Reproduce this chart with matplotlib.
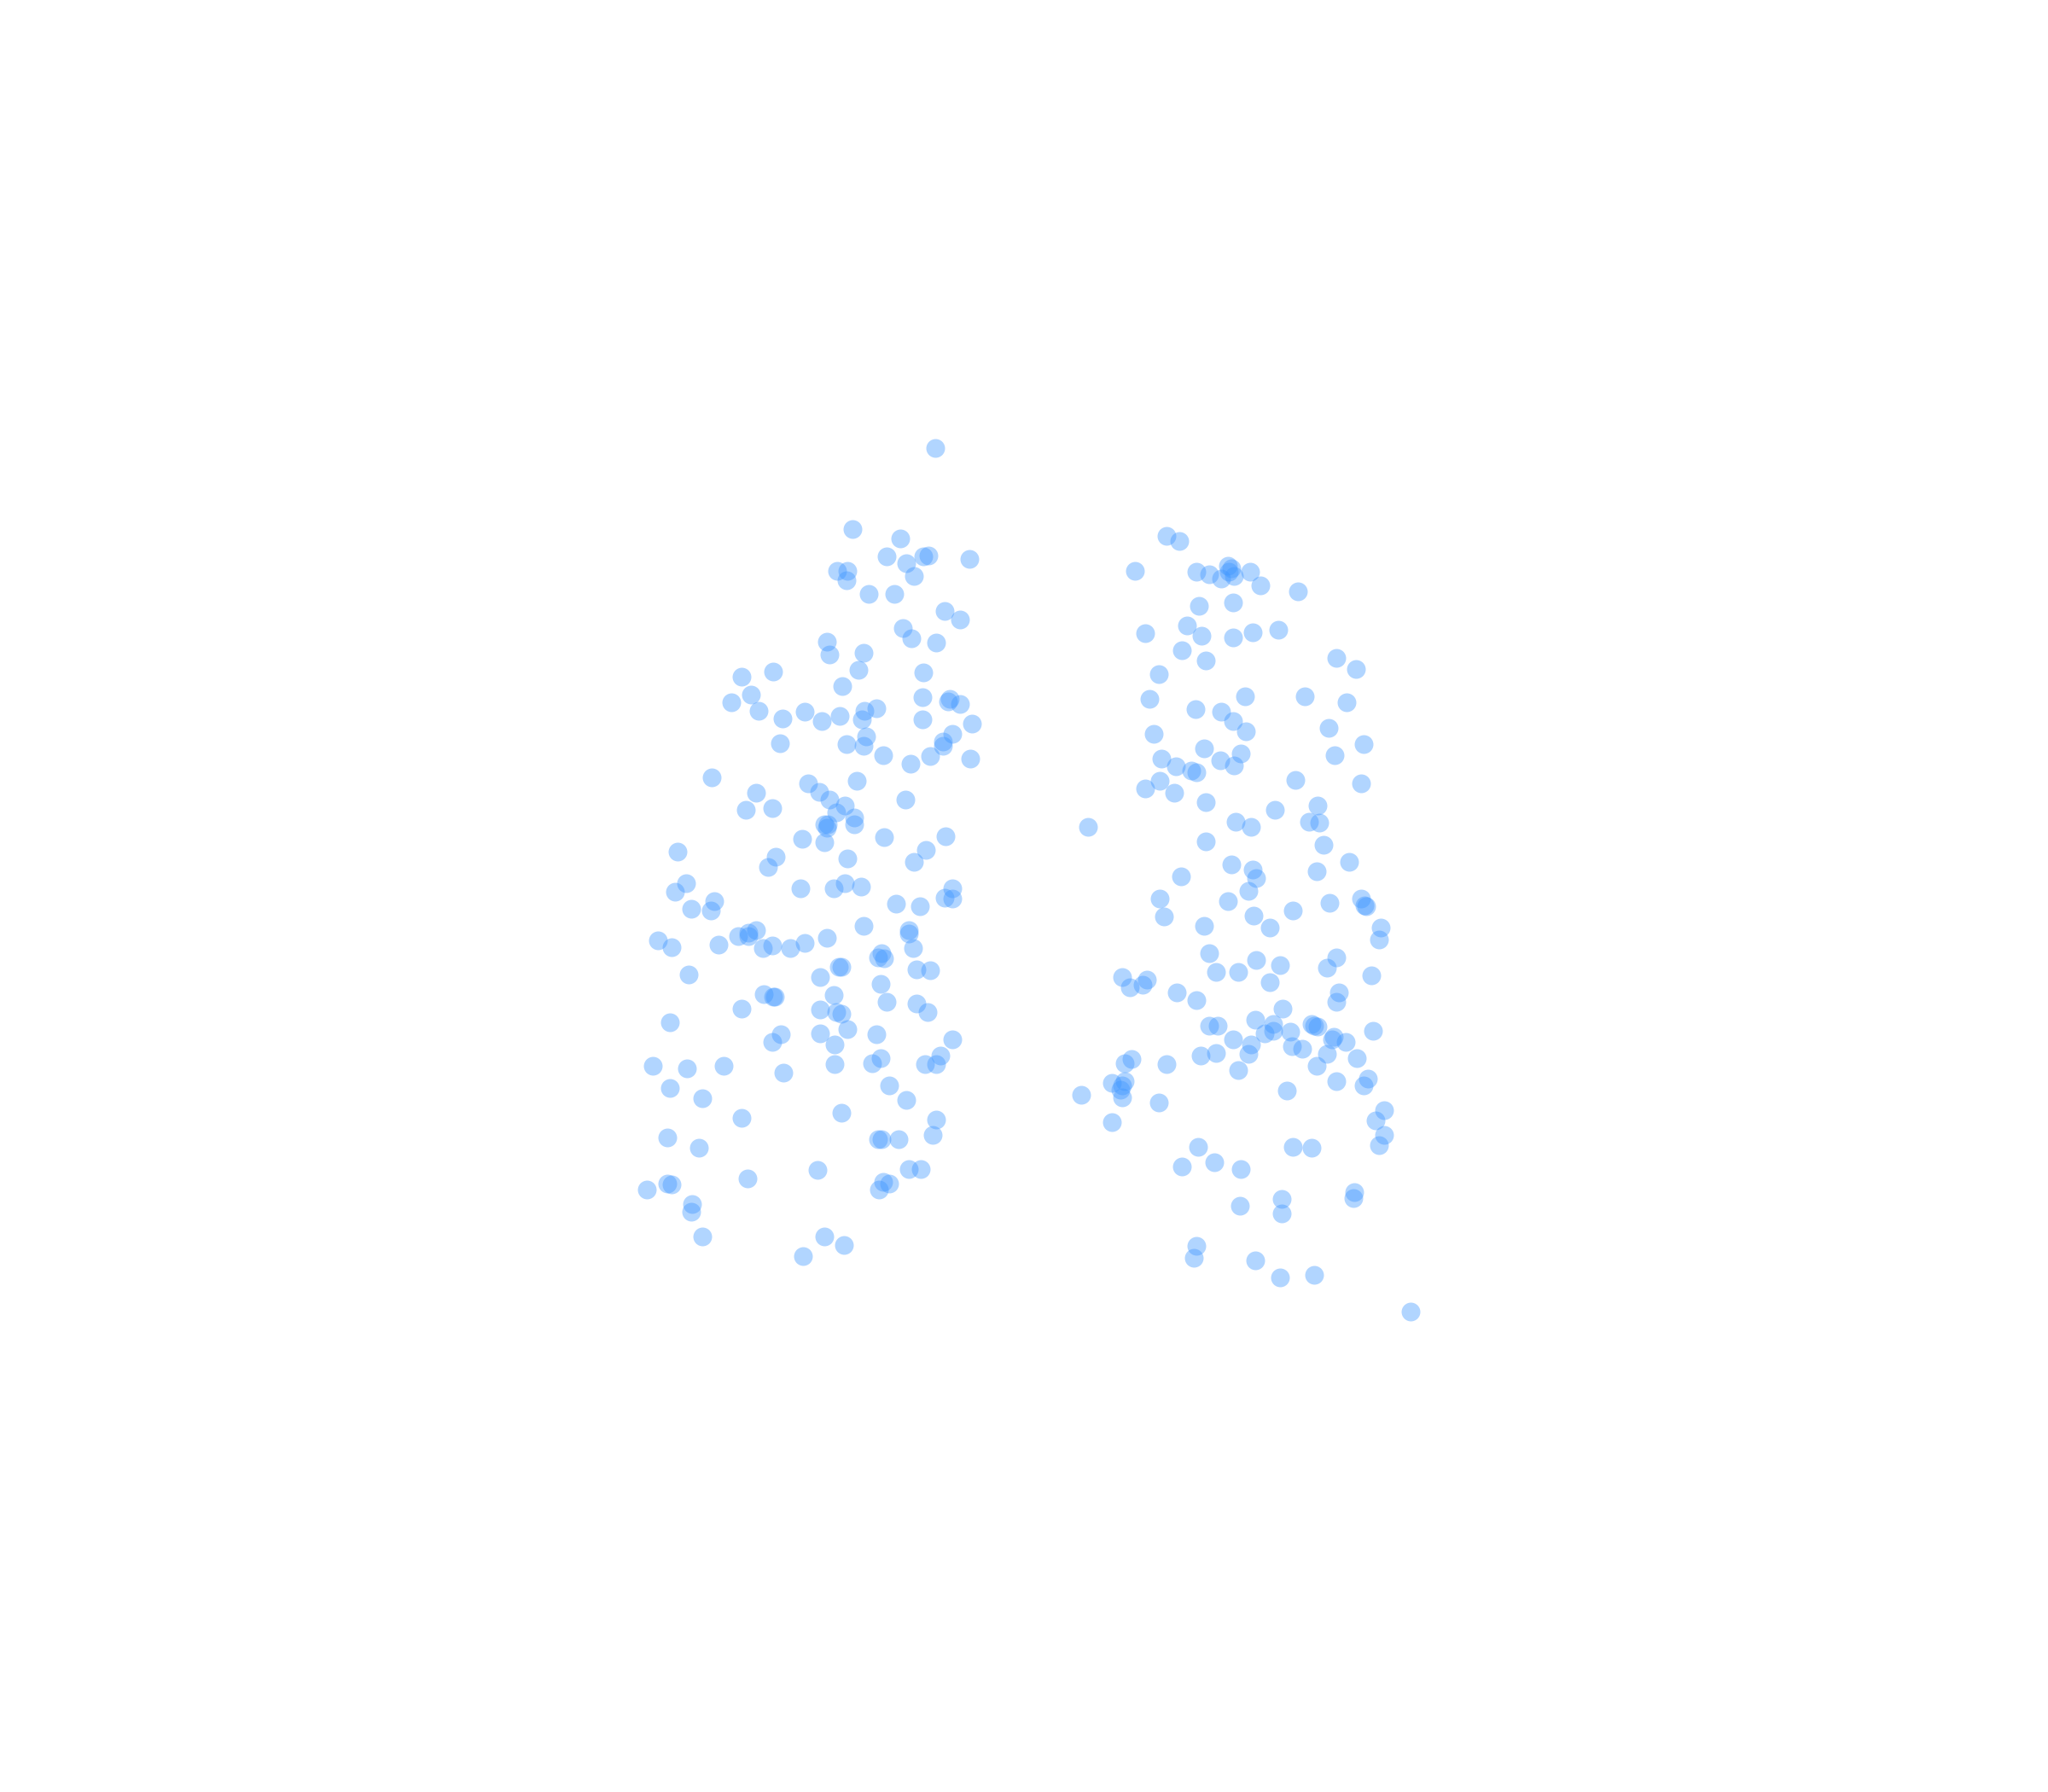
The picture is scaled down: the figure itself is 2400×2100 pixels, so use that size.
import matplotlib
matplotlib.use("Agg")
import matplotlib.pyplot as plt

left_x = [716,653,689,679,694,707,711,742,641,649,648,700,665,685,723,735,691,698,717,633,635,661,657,707,645,592,568,575,560,581,599,616,629,643,660,662,671,706,727,726,735,706,744,729,663,648,661,676,697,712,722,722,743,597,545,579,571,591,619,627,635,647,656,693,640,654,654,631,634,633,631,614,677,724,709,700,649,594,588,519,525,517,547,529,544,613,638,647,659,729,723,729,686,704,504,514,565,573,579,573,550,584,591,605,616,633,661,696,696,699,675,672,677,702,712,642,644,628,674,527,585,592,593,638,679,702,710,568,628,640,644,513,598,591,628,649,671,639,729,720,674,668,708,717,639,500,526,554,600,513,538,681,694,568,644,717,714,511,535,672,675,688,696,705,626,572,676,681,673,511,514,495,530,529,538,631,646,615]
left_y = [343,405,412,426,431,426,425,428,437,437,444,441,455,455,468,474,481,489,492,491,501,500,513,515,525,514,518,532,538,544,550,545,552,548,551,544,542,534,535,537,539,551,554,562,564,570,571,578,585,579,568,571,581,569,595,607,620,619,600,606,612,617,598,612,622,626,631,631,631,634,645,642,641,640,651,660,657,656,664,652,676,683,690,696,697,680,680,676,679,680,687,688,692,694,720,725,717,714,712,717,723,726,724,726,722,718,709,712,715,726,730,733,734,742,743,740,740,748,753,746,761,763,763,762,767,768,775,772,773,775,776,783,792,798,791,788,792,800,796,808,810,814,815,815,815,816,818,816,821,833,841,831,842,856,852,857,869,871,879,872,872,872,895,895,896,902,905,906,911,906,907,911,922,928,947,947,953,962]
right_x = [893,903,869,916,926,940,943,941,945,935,957,965,994,918,944,877,909,920,944,959,979,905,923,887,1023,1038,880,915,935,953,999,1031,944,954,1017,883,922,950,934,945,889,900,912,916,1022,1044,888,877,899,992,1042,923,833,946,958,976,1009,1002,1010,1013,923,943,959,962,1008,1033,904,956,940,888,891,960,990,1018,1042,1045,1046,972,922,1057,1056,926,962,1023,931,948,980,1016,1050,859,865,875,878,901,916,972,1025,1023,982,926,932,961,975,1004,1006,1009,968,975,988,1051,944,958,989,997,1021,1020,1030,919,931,956,1016,1039,861,866,893,948,1008,1023,1047,1044,851,861,859,858,859,828,887,985,1060,1053,851,1060,1056,917,990,1004,930,905,950,1037,1036,981,949,981,916,914,961,980,1006,1080]
right_y = [410,414,437,438,440,433,435,438,441,443,438,448,453,464,461,485,479,487,488,484,482,498,506,516,504,512,535,543,545,533,533,538,552,560,557,562,573,577,582,586,581,587,590,591,578,570,598,604,607,597,600,614,633,629,633,620,617,629,630,647,644,662,666,672,667,660,671,682,690,688,702,701,697,691,688,693,694,710,709,710,719,730,735,733,744,744,739,741,747,748,756,754,750,760,766,752,760,767,772,785,785,781,784,784,785,786,791,789,790,789,796,800,801,803,794,796,798,808,806,807,807,810,814,811,815,819,816,828,826,831,829,828,831,834,840,838,844,835,850,858,859,869,877,878,878,879,890,893,895,913,917,918,923,929,954,963,965,978,976,1004]

fig = plt.figure(figsize=(24, 21), dpi=100, facecolor="white")
ax = fig.add_axes([0, 0, 1, 1])
ax.set_xlim(0, 1568)
ax.set_ylim(1372, 0)
ax.axis("off")
for xs, ys in ((left_x, left_y), (right_x, right_y)):
    ax.scatter(xs, ys, s=250, color="#3e96ff", alpha=0.4, linewidths=0)
fig.savefig("out.png", dpi=100, facecolor="white")
